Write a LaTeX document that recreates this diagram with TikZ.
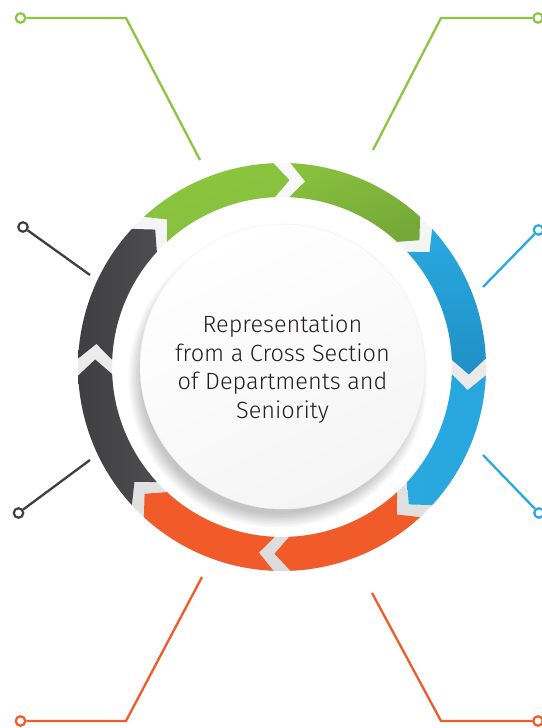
\documentclass[tikz,border=0pt]{standalone}
\usepackage{fontspec}
\newfontfamily\titlefont{Fira Sans Light}
\usetikzlibrary{calc}

\definecolor{ringgreen}{HTML}{8CC63F}
\definecolor{ringgreendark}{HTML}{74A838}
\definecolor{ringblue}{HTML}{29A9E0}
\definecolor{ringbluedark}{HTML}{1F90C6}
\definecolor{ringorange}{HTML}{F15A29}
\definecolor{ringgray}{HTML}{4D4D4F}
\definecolor{ringgraydark}{HTML}{3F3F41}
\definecolor{textgray}{HTML}{231F20}

% One chevron-shaped piece of the ring, running clockwise from
% junction angle #1 (notched tail) to junction angle #2 (pointed head).
\newcommand{\ringpiece}[3]{%
  \pgfmathsetmacro{\pa}{#1-2.4}%
  \pgfmathsetmacro{\pn}{#1-2.4-4.7}%
  \pgfmathsetmacro{\pb}{#2+2.4}%
  \pgfmathsetmacro{\pt}{#2+2.4-4.7}%
  \path[#3] (\pa:204pt) arc[start angle=\pa, end angle=\pb, radius=204pt]
    -- (\pt:187pt) -- (\pb:170pt)
    arc[start angle=\pb, end angle=\pa, radius=170pt]
    -- (\pn:187pt) -- cycle;
}

\tikzset{
  leader/.style={line width=2.3pt},
  tag/.style={circle, draw, fill=white, line width=2.2pt, minimum size=9.5pt, inner sep=0pt},
}

\begin{document}
\begin{tikzpicture}[x=1pt, y=1pt]
\useasboundingbox (0,0) rectangle (541,728);
\fill[white] (0,0) rectangle (541,728);

% ---- leader lines with their end tags ----
\coordinate (gl1) at (126,710);  \coordinate (gl2) at (200,568);
\coordinate (gr1) at (441,710);  \coordinate (gr2) at (373,578);
\coordinate (kl1) at (90,453);   \coordinate (kl2) at (90,268);
\coordinate (br1) at (483,441);  \coordinate (br2) at (483,273);
\coordinate (ol1) at (126,7);    \coordinate (ol2) at (202,151);
\coordinate (or1) at (441,7);    \coordinate (or2) at (372,135);

\node[tag, draw=ringgraydark] (tkl1) at (23,501) {};
\node[tag, draw=ringgraydark] (tkl2) at (18.5,215) {};
\node[tag, draw=ringgreen]  (tgl) at (20.5,710) {};
\node[tag, draw=ringgreen]  (tgr) at (538,710) {};
\node[tag, draw=ringblue]   (tbr1) at (538.5,498) {};
\node[tag, draw=ringblue]   (tbr2) at (539,215) {};
\node[tag, draw=ringorange] (tol) at (20.5,7) {};
\node[tag, draw=ringorange] (tor) at (538,7) {};

\draw[leader, ringgreen]  (tgl) -- (gl1) -- (gl2);
\draw[leader, ringgreen]  (tgr) -- (gr1) -- (gr2);
\draw[leader, ringgraydark] (tkl1) -- (kl1);
\draw[leader, ringgraydark] (tkl2) -- (kl2);
\draw[leader, ringblue]   (tbr1) -- (br1);
\draw[leader, ringblue]   (tbr2) -- (br2);
\draw[leader, ringorange] (tol) -- (ol1) -- (ol2);
\draw[leader, ringorange] (tor) -- (or1) -- (or2);

% ---- the cycle ring ----
\begin{scope}[shift={(282,361)}]
  % light groove seen through the gaps between pieces
  \path[even odd rule, top color=gray!4, bottom color=gray!28]
    (0,0) circle[radius=204pt] (0,0) circle[radius=170pt];

  % green (top)
  \ringpiece{135}{90}{left color=ringgreen, right color=ringgreen!75!ringgreendark, shading angle=20}
  \ringpiece{90}{45}{left color=ringgreen!80!ringgreendark, right color=ringgreendark, shading angle=20}
  % blue (right)
  \ringpiece{45}{0}{left color=ringblue, right color=ringbluedark, shading angle=0}
  \ringpiece{0}{-45}{left color=ringblue, right color=ringblue!90!ringbluedark}
  % orange (bottom)
  \ringpiece{-45}{-90}{fill=ringorange}
  \ringpiece{-90}{-135}{fill=ringorange}
  % dark grey (left)
  \ringpiece{-135}{-180}{left color=ringgraydark, right color=ringgray}
  \ringpiece{-180}{-225}{left color=ringgraydark, right color=ringgray}

  % soft shadow under the centre disc
  \foreach \k in {0,...,9}
    \fill[black, opacity=0.022] (-4,-11) circle[radius={136pt+1.5pt*\k}];
\end{scope}

% ---- centre disc and its caption ----
\node[circle, minimum size=285pt, inner sep=0pt, draw=gray!12, line width=0.5pt,
      top color=white, bottom color=gray!8, shading angle=25] (hub) at (282.5,361.5) {};
\node[text=textgray, align=center, font=\titlefont\fontsize{23.5}{28.5}\selectfont]
  (caption) at (282.5,359) {Representation\\from a Cross Section\\of Departments and\\Seniority};
\end{tikzpicture}
\end{document}
